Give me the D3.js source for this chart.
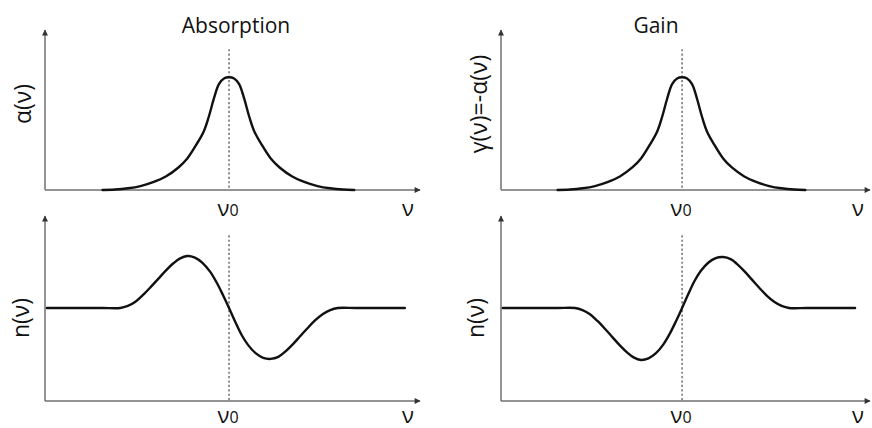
<!DOCTYPE html>
<html>
<head>
<meta charset="utf-8">
<script src="https://cdn.jsdelivr.net/npm/d3@7"></script>
<style>
  html, body { margin: 0; padding: 0; background: #fff; }
  svg { display: block; }
  text { font-family: "Open Sans", "Noto Sans", sans-serif; fill: #111; }
</style>
</head>
<body>
<svg id="chart" width="872" height="428"></svg>
<script>
// ---- data (ν measured from ν0, arbitrary units) ----
const panelTitles = ["Absorption", "Gain"];
const topYLabels = ["α(ν)", "γ(ν)=-α(ν)"];
const bottomYLabels = ["n(ν)", "n(ν)"];
const centerLabel = "ν";
const centerSub = "0";
const axisLabel = "ν";

const lineX = [-1.0, -0.9, -0.8, -0.7, -0.6, -0.5, -0.4, -0.33, -0.26, -0.2, -0.16, -0.12, -0.08, -0.04, 0,
               0.04, 0.08, 0.12, 0.16, 0.2, 0.26, 0.33, 0.4, 0.5, 0.6, 0.7, 0.8, 0.9, 0.99];
const absorptionY = [0, 0.004, 0.015, 0.035, 0.07, 0.12, 0.2, 0.28, 0.4, 0.52, 0.65, 0.81, 0.94, 0.99, 1.0,
                     0.99, 0.94, 0.81, 0.65, 0.52, 0.4, 0.28, 0.2, 0.12, 0.07, 0.035, 0.015, 0.004, 0];
const gainY = [0, 0.004, 0.015, 0.035, 0.07, 0.12, 0.2, 0.28, 0.4, 0.52, 0.65, 0.81, 0.94, 0.99, 1.0,
               0.99, 0.94, 0.81, 0.65, 0.52, 0.4, 0.28, 0.2, 0.12, 0.07, 0.035, 0.015, 0.004, 0];

const nX = [-1.44, -1.2, -1.0, -0.86, -0.8, -0.74, -0.68, -0.62, -0.56, -0.5, -0.44, -0.39, -0.33, -0.27, -0.21, -0.15, -0.1, -0.05, 0,
            0.05, 0.1, 0.15, 0.21, 0.27, 0.33, 0.39, 0.44, 0.5, 0.56, 0.62, 0.68, 0.74, 0.8, 0.86, 1.0, 1.2, 1.39];
const nAbsorption = [0, 0, 0, 0, 0.04, 0.12, 0.25, 0.4, 0.56, 0.72, 0.86, 0.95, 1.0, 0.97, 0.87, 0.7, 0.5, 0.26, 0,
                     -0.27, -0.52, -0.71, -0.87, -0.96, -0.98, -0.94, -0.85, -0.71, -0.55, -0.39, -0.24, -0.12, -0.04, 0, 0, 0, 0];
const nGain = [0, 0, 0, 0, -0.04, -0.12, -0.25, -0.4, -0.56, -0.72, -0.86, -0.95, -1.0, -0.97, -0.87, -0.7, -0.5, -0.26, 0,
               0.27, 0.52, 0.71, 0.87, 0.96, 0.98, 0.94, 0.85, 0.71, 0.55, 0.39, 0.24, 0.12, 0.04, 0, 0, 0, 0];

// ---- layout ----
const svg = d3.select("#chart");
const axisColor = "#707070";

const defs = svg.append("defs");
defs.append("marker")
  .attr("id", "arrow")
  .attr("viewBox", "0 0 10 10")
  .attr("refX", 9).attr("refY", 5)
  .attr("markerWidth", 7).attr("markerHeight", 6)
  .attr("markerUnits", "userSpaceOnUse")
  .attr("orient", "auto")
  .append("path").attr("d", "M0,0 L10,5 L0,10 Z").attr("fill", "#333");

const columns = [
  { x0: 45, x1: 420, title: panelTitles[0], titleX: 236, topLabel: topYLabels[0], topLabelX: 31, botLabelX: 29,
    botLabel: bottomYLabels[0], top: absorptionY, bot: nAbsorption },
  { x0: 501, x1: 870, title: panelTitles[1], titleX: 656, topLabel: topYLabels[1], topLabelX: 487, botLabelX: 484,
    botLabel: bottomYLabels[1], top: gainY, bot: nGain }
];
const xDomain = [-1.455, 1.51];

const rows = [
  { axisY: 190, topY: 30, domain: [0, 1.42], dashTop: 1.25, labelBase: 216, labelCY: 104 },
  { axisY: 401, topY: 216, domain: [-1.79, 1.77], dashTop: 1.40, labelBase: 423, labelCY: 318 }
];

columns.forEach((col, ci) => {
  const x = d3.scaleLinear().domain(xDomain).range([col.x0, col.x1]);
  rows.forEach((row, ri) => {
    const y = d3.scaleLinear().domain(row.domain).range([row.axisY, row.topY]);
    const g = svg.append("g");

    // dashed vertical line at ν0
    g.append("line")
      .attr("x1", x(0)).attr("x2", x(0))
      .attr("y1", y(row.dashTop)).attr("y2", y(row.domain[0]))
      .attr("stroke", "#666").attr("stroke-width", 1.4)
      .attr("stroke-dasharray", "2.2,2.2");

    // axes with arrows
    g.append("line")
      .attr("x1", x(xDomain[0])).attr("x2", x(xDomain[1]))
      .attr("y1", y(row.domain[0])).attr("y2", y(row.domain[0]))
      .attr("stroke", axisColor).attr("stroke-width", 1.5)
      .attr("marker-end", "url(#arrow)");
    g.append("line")
      .attr("x1", x(xDomain[0])).attr("x2", x(xDomain[0]))
      .attr("y1", y(row.domain[0])).attr("y2", y(row.domain[1]))
      .attr("stroke", axisColor).attr("stroke-width", 1.5)
      .attr("marker-end", "url(#arrow)");

    // curve
    const xs = ri === 0 ? lineX : nX;
    const ys = ri === 0 ? col.top : col.bot;
    const pts = xs.map((v, i) => [v, ys[i]]);
    g.append("path")
      .datum(pts)
      .attr("fill", "none")
      .attr("stroke", "#111")
      .attr("stroke-width", 2.4)
      .attr("stroke-linejoin", "round")
      .attr("stroke-linecap", "round")
      .attr("d", d3.line().x(d => x(d[0])).y(d => y(d[1])).curve(d3.curveCatmullRom.alpha(0.5)));

    // x labels
    const t0 = g.append("text")
      .attr("x", x(0) - 1).attr("y", row.labelBase)
      .attr("text-anchor", "middle")
      .attr("font-size", 22);
    t0.append("tspan").text(centerLabel);
    t0.append("tspan").attr("font-size", 16).text(centerSub);

    g.append("text")
      .attr("x", x(xDomain[1]) - 12).attr("y", row.labelBase)
      .attr("text-anchor", "middle")
      .attr("font-size", 22)
      .text(axisLabel);

    // y label
    g.append("text")
      .attr("transform", `translate(${ri === 0 ? col.topLabelX : col.botLabelX},${row.labelCY}) rotate(-90)`)
      .attr("text-anchor", "middle")
      .attr("font-size", 23)
      .text(ri === 0 ? col.topLabel : col.botLabel);
  });

  svg.append("text")
    .attr("x", col.titleX).attr("y", 33)
    .attr("text-anchor", "middle")
    .attr("font-size", 21)
    .text(col.title);
});
</script>
</body>
</html>
